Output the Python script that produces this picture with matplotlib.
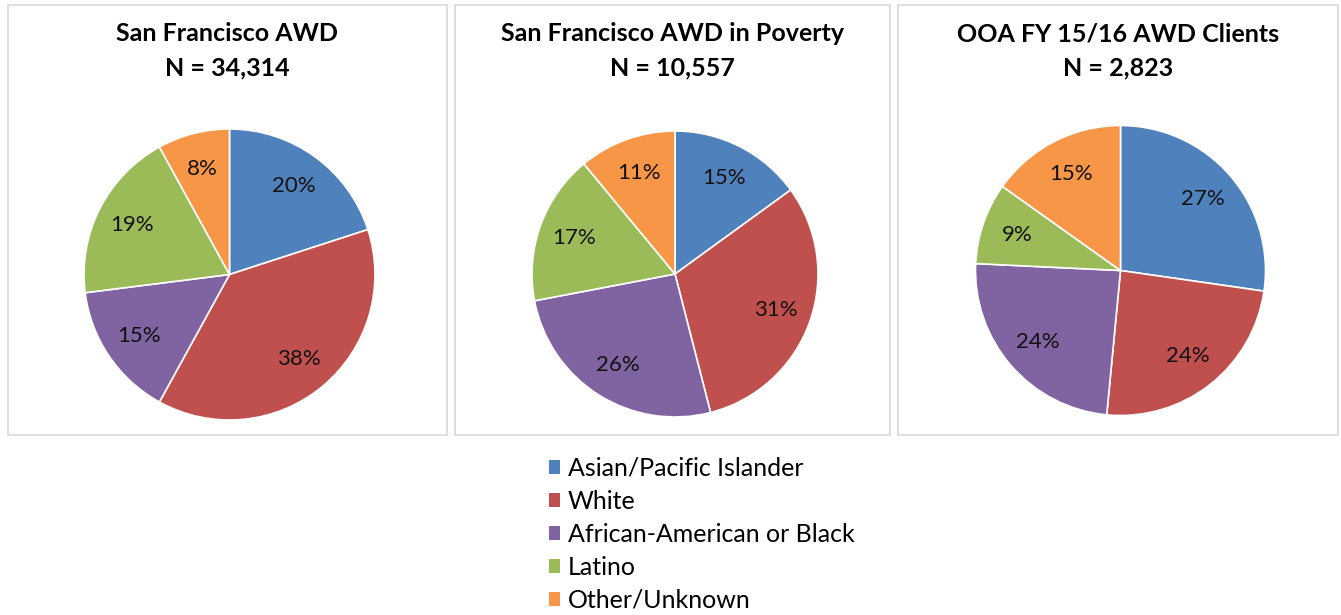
import matplotlib
matplotlib.use("Agg")
import matplotlib.pyplot as plt
from matplotlib.patches import Rectangle

plt.rcParams["font.family"] = ["Lato", "DejaVu Sans"]

# data
categories = ["Asian/Pacific Islander", "White", "African-American or Black",
              "Latino", "Other/Unknown"]
titles = ["San Francisco AWD\nN = 34,314",
          "San Francisco AWD in Poverty\nN = 10,557",
          "OOA FY 15/16 AWD Clients\nN = 2,823"]
sf_awd = [20, 38, 15, 19, 8]
sf_poverty = [15, 31, 26, 17, 11]
ooa_clients = [27, 24, 24, 9, 15]
colors = ["#4F81BD", "#C0504D", "#8064A2", "#9BBB59", "#F79646"]

W, H = 1341, 615
fig = plt.figure(figsize=(W / 100, H / 100), dpi=100)

# panel boxes (pixels: x0, x1) and pie centres / radii
boxes = [(8, 447), (455, 890), (898, 1338)]
centres = [(229.5, 274.5, 145.5), (675, 274, 143), (1120.5, 270.5, 145)]
series = [sf_awd, sf_poverty, ooa_clients]

for (x0, x1), (cx, cy, r), vals, title in zip(boxes, centres, series, titles):
    fig.patches.append(Rectangle((x0 / W, 1 - 435 / H), (x1 - x0) / W, 430 / H,
                                 transform=fig.transFigure, fill=False,
                                 edgecolor="#D9D9D9", lw=1.2))
    fig.text((x0 + x1) / 2 / W, 1 - 51 / H, title, ha="center", va="center",
             fontsize=18, fontweight="bold", linespacing=1.6)
    ax = fig.add_axes([(cx - r) / W, 1 - (cy + r) / H, 2 * r / W, 2 * r / H])
    ax.pie(vals, colors=colors, startangle=90, counterclock=False,
           labels=[f"{v}%" for v in vals], labeldistance=0.75,
           wedgeprops=dict(edgecolor="white", linewidth=1.2),
           textprops=dict(fontsize=16, color="#111111",
                          ha="center", va="center"))
    ax.set_xlim(-1, 1); ax.set_ylim(-1, 1)
    ax.set_aspect("equal"); ax.axis("off")

handles = [Rectangle((0, 0), 1, 1, facecolor=c, edgecolor="none") for c in colors]
fig.legend(handles, categories, loc="upper left",
           bbox_to_anchor=(549 / W, 1 - 457 / H), frameon=False,
           fontsize=18, handlelength=0.45, handleheight=0.45, handletextpad=0.3,
           labelspacing=0.4, borderaxespad=0, borderpad=0)

fig.savefig("out.png", dpi=100)
